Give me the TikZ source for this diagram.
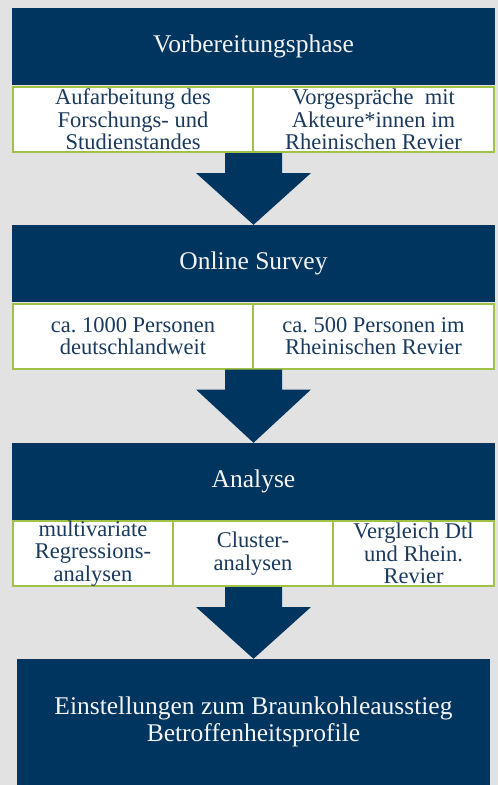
\documentclass[tikz,border=0pt]{standalone}
\usepackage{fontspec}
\setmainfont{Liberation Serif}
\usetikzlibrary{calc}
\frenchspacing
\definecolor{pagegray}{HTML}{E2E2E2}
\definecolor{navy}{HTML}{00355F}
\definecolor{navytext}{HTML}{1A3A5E}
\definecolor{leaf}{HTML}{9FC145}
\definecolor{paper}{HTML}{F4F4F4}
\tikzset{
  phase/.style={fill=navy, draw=none, inner sep=0pt, text=paper,
    font=\fontsize{25.5}{27.5}\selectfont, align=center},
  cell/.style={fill=white, draw=leaf, line width=2pt, inner sep=0pt,
    text=navytext, font=\fontsize{22.5}{22.5}\selectfont, align=center,
    minimum height=65pt},
  blockarrow/.style={fill=navy, draw=none}
}
% fat downward arrow: shaft from the bottom of (#1), tip on the top of (#2)
\newcommand{\flowarrow}[2]{%
  \fill[blockarrow] let \p1=(#1), \p2=(#2) in
    (\x2-28.5pt,\y1) -- (\x2-28.5pt,\y1-20pt) -- (\x2-57.5pt,\y1-20pt)
    -- (\x2,\y2) -- (\x2+57.5pt,\y1-20pt) -- (\x2+28.5pt,\y1-20pt)
    -- (\x2+28.5pt,\y1) -- cycle;}
\begin{document}
\begin{tikzpicture}[x=1pt,y=-1pt]
  \fill[pagegray] (0,0) rectangle (498,785);
  \useasboundingbox (0,0) rectangle (498,785);

  % phase 1
  \node[phase, minimum width=483pt, minimum height=77pt] (p1) at (253.5,46.5) {Vorbereitungsphase};
  \node[cell, minimum width=240pt] (c1a) at (133,119.5) {Aufarbeitung des\\Forschungs- und\\Studienstandes};
  \node[cell, minimum width=241pt] (c1b) at (373.5,119.5) {Vorgespräche\ \ mit\\Akteure*innen im\\Rheinischen Revier};

  % phase 2
  \node[phase, minimum width=483pt, minimum height=77pt] (p2) at (253.5,263.5) {Online Survey};
  \node[cell, minimum width=240pt] (c2a) at (133,336) {ca. 1000 Personen\\deutschlandweit};
  \node[cell, minimum width=241pt] (c2b) at (373.5,336) {ca. 500 Personen im\\Rheinischen Revier};

  % phase 3
  \node[phase, minimum width=483pt, minimum height=77pt] (p3) at (253.5,481.5) {Analyse};
  \node[cell, minimum width=160pt] (c3a) at (93,553.5) {multivariate\\Regressions-\\analysen};
  \node[cell, minimum width=160pt] (c3b) at (253,553.5) {Cluster-\\analysen};
  \node[cell, minimum width=161pt] (c3c) at (413.5,553.5) {Vergleich Dtl\\und Rhein.\\Revier};

  % result
  \node[phase, minimum width=473pt, minimum height=126pt] (p4) at (253.5,722) {Einstellungen zum Braunkohleausstieg\\Betroffenheitsprofile};

  % connectors
  \flowarrow{c1a.south east}{p2.north}
  \flowarrow{c2a.south east}{p3.north}
  \flowarrow{c3b.south}{p4.north}
\end{tikzpicture}
\end{document}
